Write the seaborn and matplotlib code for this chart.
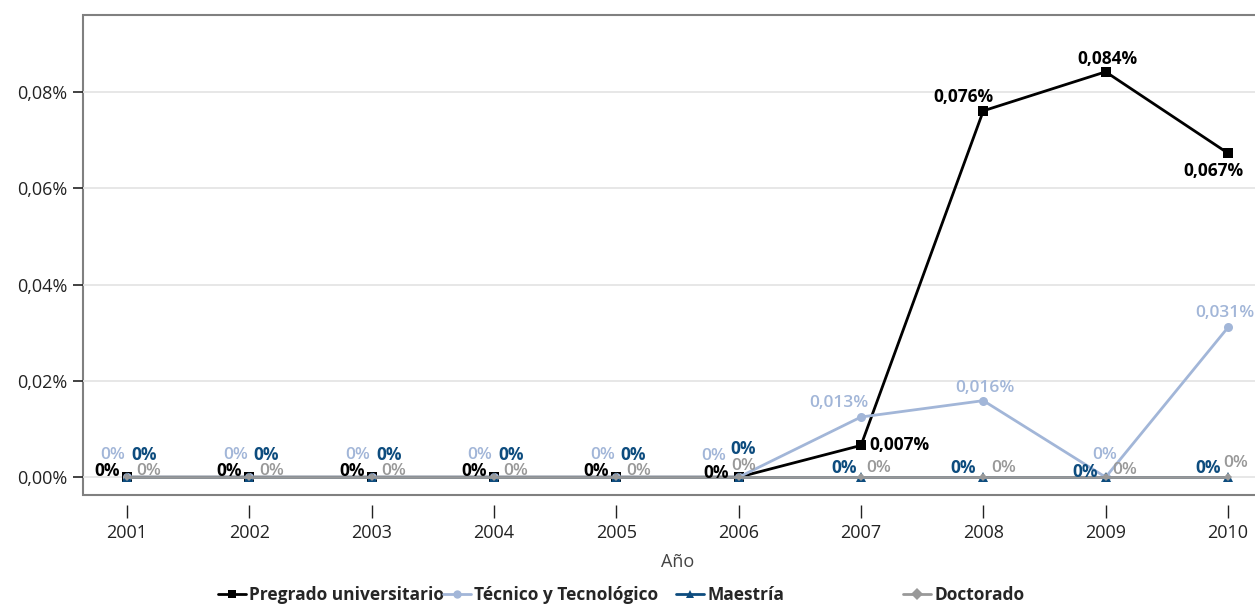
import pandas as pd
import matplotlib
matplotlib.use('Agg')
import matplotlib.pyplot as plt
import seaborn as sns
from matplotlib.ticker import FuncFormatter

# Data (values in %)
years = [2001, 2002, 2003, 2004, 2005, 2006, 2007, 2008, 2009, 2010]
pregrado = [0, 0, 0, 0, 0, 0, 0.0066, 0.0761, 0.0842, 0.0673]
tecnico = [0, 0, 0, 0, 0, 0, 0.0125, 0.0159, 0, 0.0311]
maestria = [0, 0, 0, 0, 0, 0, 0, 0, 0, 0]
doctorado = [0, 0, 0, 0, 0, 0, 0, 0, 0, 0]

series_names = ['Pregrado universitario', 'Técnico y Tecnológico', 'Maestría', 'Doctorado']
series_values = [pregrado, tecnico, maestria, doctorado]

colors = ['#000000', '#A2B6D8', '#0D4C7E', '#999999']
markers = ['s', 'o', '^', 'D']
marker_sizes = [6.5, 6.5, 6.5, 4]
label_weights = ['bold', 'semibold', 'bold', 'semibold']
legend_x = [218, 443, 676, 903]  # left edge of each legend entry, px

# label offsets in pixels (dx, dy) per series and year
early_offsets = {
    'Pregrado universitario': (-20, 6),
    'Técnico y Tecnológico': (-14, 22),
    'Maestría': (17, 22),
    'Doctorado': (22, 6),
}
late_offsets = {
    'Pregrado universitario': [(-23, 4), (8, 0), (-20, 14), (2, 13), (-15, -18)],
    'Técnico y Tecnológico': [(-25, 21), (-22, 14), (2, 13), (-1, 22), (-3, 14)],
    'Maestría': [(4, 28), (-17, 9), (-20, 9), (-21, 5), (-20, 9)],
    'Doctorado': [(5, 11), (18, 9), (20, 9), (19, 7), (8, 14)],
}

rows = []
for name, vals in zip(series_names, series_values):
    for y, v in zip(years, vals):
        rows.append({'Año': y, 'valor': v, 'serie': name})
df = pd.DataFrame(rows)

sns.set_style('white')
plt.rcParams['font.family'] = ['Open Sans', 'DejaVu Sans']

fig = plt.figure(figsize=(12.55, 6.07), dpi=100)
ax = fig.add_axes([83 / 1255, 112 / 607, 1189 / 1255, 480 / 607])

sns.lineplot(
    data=df, x='Año', y='valor', hue='serie', style='serie',
    hue_order=series_names, style_order=series_names,
    palette=dict(zip(series_names, colors)),
    markers=dict(zip(series_names, markers)),
    dashes=False, linewidth=2, markeredgewidth=0, ax=ax,
)
for line, ms in zip(ax.lines, marker_sizes):
    line.set_markersize(ms)

def fmt_label(v):
    if v == 0:
        return '0%'
    return f'{v:.3f}%'.replace('.', ',')

for name, vals, col, w in zip(series_names, series_values, colors, label_weights):
    for i, (yr, v) in enumerate(zip(years, vals)):
        if i < 5:
            dx, dy = early_offsets[name]
        else:
            dx, dy = late_offsets[name][i - 5]
        ha = 'center'
        if name == 'Pregrado universitario' and yr == 2007:
            ha = 'left'
        ax.annotate(fmt_label(v), (yr, v), xytext=(dx, dy), textcoords='offset pixels',
                    ha=ha, va='center', fontsize=12.5, fontweight=w, color=col)

ax.set_xlim(2000.64, 2010.36)
ax.set_ylim(-0.0037, 0.096)
ax.set_xticks(years)
ax.set_yticks([0, 0.02, 0.04, 0.06, 0.08])
ax.yaxis.set_major_formatter(FuncFormatter(lambda v, p: f'{v:.2f}%'.replace('.', ',')))
ax.grid(axis='y', color='#E3E3E3', linewidth=1.2)
ax.set_axisbelow(True)

# frame drawn with the axes patch, ticks detached below
for s in ax.spines.values():
    s.set_visible(False)
ax.spines['bottom'].set_position(('outward', 7))
ax.patch.set_edgecolor('#808080')
ax.patch.set_linewidth(1.5)

ax.tick_params(axis='x', bottom=True, length=9, width=1, color='#222222',
               labelsize=13, pad=5, labelcolor='#222222')
ax.tick_params(axis='y', left=True, length=7, width=1.2, color='#222222',
               labelsize=13, pad=4, labelcolor='#222222')
ax.set_xlabel('Año', fontsize=13, color='#444444', labelpad=8)
ax.set_ylabel('')

# one legend entry per column position, like the reference
handles, labels = ax.get_legend_handles_labels()
ax.get_legend().remove()
for h, l, x in zip(handles, labels, legend_x):
    leg = fig.legend([h], [l], loc='center left', bbox_to_anchor=(x / 1255, 12 / 607),
                     frameon=False, fontsize=12.5, handlelength=1.6, handletextpad=0.2,
                     borderpad=0, borderaxespad=0)
    for t in leg.get_texts():
        t.set_fontweight('bold')

fig.savefig('out.png', dpi=100)
